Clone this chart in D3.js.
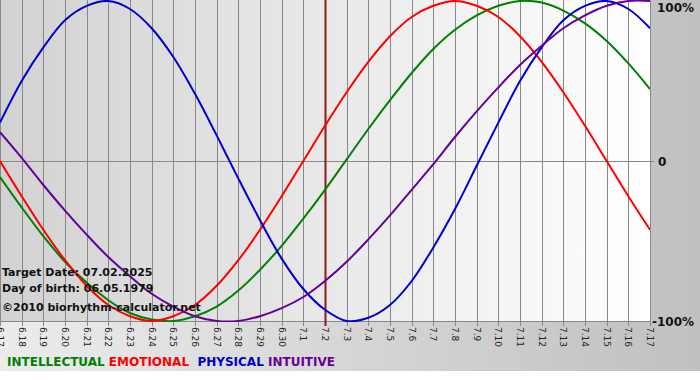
<!DOCTYPE html>
<html>
<head>
<meta charset="utf-8">
<script src="https://cdn.jsdelivr.net/npm/d3@7"></script>
<style>
  body { margin: 0; background: #fff; }
  svg { display: block; }
</style>
</head>
<body>
<div id="chart"></div>
<script>
// day labels, 17 June to 17 July
const days = ["6.17","6.18","6.19","6.20","6.21","6.22","6.23","6.24","6.25","6.26","6.27","6.28","6.29","6.30",
  "7.1","7.2","7.3","7.4","7.5","7.6","7.7","7.8","7.9","7.10","7.11","7.12","7.13","7.14","7.15","7.16","7.17"];

// values, -1..1
const intellectual = [-0.10,-0.29,-0.47,-0.63,-0.76,-0.87,-0.95,-0.99,-1.00,-0.97,-0.91,-0.81,-0.68,-0.53,-0.36,-0.18,
  0.01,0.20,0.38,0.55,0.70,0.82,0.91,0.97,1.00,0.99,0.94,0.86,0.75,0.61,0.45];
const emotional = [0.00,-0.22,-0.43,-0.62,-0.78,-0.90,-0.97,-1.00,-0.97,-0.90,-0.78,-0.62,-0.43,-0.22,0.00,0.22,
  0.43,0.62,0.78,0.90,0.97,1.00,0.97,0.90,0.78,0.62,0.43,0.22,0.00,-0.22,-0.43];
const physical = [0.24,0.50,0.71,0.88,0.97,1.00,0.95,0.83,0.65,0.42,0.16,-0.11,-0.37,-0.61,-0.80,-0.93,
  -1.00,-0.98,-0.90,-0.75,-0.54,-0.30,-0.03,0.24,0.50,0.71,0.88,0.97,1.00,0.95,0.83];
const intuitive = [0.18,0.02,-0.15,-0.31,-0.46,-0.60,-0.72,-0.83,-0.91,-0.97,-1.00,-1.00,-0.97,-0.92,-0.85,-0.75,
  -0.63,-0.49,-0.34,-0.18,-0.02,0.15,0.31,0.46,0.60,0.72,0.83,0.91,0.97,1.00,1.00];

const series = [
  {name: "INTELLECTUAL", color: "#008000", values: intellectual},
  {name: "EMOTIONAL", color: "#ff0000", values: emotional},
  {name: "PHYSICAL", color: "#0000cc", values: physical},
  {name: "INTUITIVE", color: "#660099", values: intuitive}
];

const targetDay = "7.2";
const yTicks = [{v: 1, label: "100%"}, {v: 0, label: "0"}, {v: -1, label: "-100%"}];
const infoLines = ["Target Date: 07.02.2025", "Day of birth: 06.05.1979", "\u00a92010 biorhythm-calculator.net"];

const width = 700, height = 380;
const plotW = 650, plotH = 321;
const font = "DejaVu Sans, Verdana, sans-serif";

const svg = d3.select("#chart").append("svg")
  .attr("width", width)
  .attr("height", height);

const defs = svg.append("defs");
const outerGrad = defs.append("linearGradient").attr("id", "outer");
outerGrad.append("stop").attr("offset", "0%").attr("stop-color", "#ececec");
outerGrad.append("stop").attr("offset", "100%").attr("stop-color", "#c0c0c0");
const plotGrad = defs.append("linearGradient").attr("id", "plotbg");
plotGrad.append("stop").attr("offset", "0%").attr("stop-color", "#d2d2d2");
plotGrad.append("stop").attr("offset", "100%").attr("stop-color", "#ffffff");

svg.append("rect").attr("width", width).attr("height", 371).attr("fill", "url(#outer)");
svg.append("rect").attr("width", plotW).attr("height", plotH).attr("fill", "url(#plotbg)");

const x = d3.scaleLinear().domain([0, days.length - 1]).range([0, plotW]);
const y = d3.scaleLinear().domain([-1, 1]).range([plotH, 1]);

// vertical grid
svg.append("g")
  .selectAll("line")
  .data(days)
  .join("line")
  .attr("x1", (d, i) => Math.round(x(i)) + 0.5)
  .attr("x2", (d, i) => Math.round(x(i)) + 0.5)
  .attr("y1", 0)
  .attr("y2", plotH + 5)
  .attr("stroke", "#888")
  .attr("stroke-width", 1);

// zero line + bottom
svg.append("line")
  .attr("x1", 0).attr("x2", plotW + 4)
  .attr("y1", Math.round(y(0)) + 0.5).attr("y2", Math.round(y(0)) + 0.5)
  .attr("stroke", "#888");
svg.append("line")
  .attr("x1", 0).attr("x2", plotW)
  .attr("y1", plotH + 0.5).attr("y2", plotH + 0.5)
  .attr("stroke", "#888");

// x labels, rotated
svg.append("g")
  .selectAll("text")
  .data(days)
  .join("text")
  .attr("transform", (d, i) => "translate(" + (x(i) - 3) + "," + (plotH + 6) + ") rotate(90)")
  .attr("font-family", font)
  .attr("font-size", 9)
  .attr("fill", "#222")
  .text(d => d);

// target day marker
const ti = days.indexOf(targetDay);
svg.append("line")
  .attr("x1", Math.round(x(ti)) + 0.5).attr("x2", Math.round(x(ti)) + 0.5)
  .attr("y1", 0).attr("y2", plotH + 5)
  .attr("stroke", "#8b1a1a")
  .attr("stroke-width", 2);

// curves
const line = d3.line()
  .x((d, i) => x(i))
  .y(d => y(d))
  .curve(d3.curveCatmullRom);

const clip = defs.append("clipPath").attr("id", "clip");
clip.append("rect").attr("width", plotW).attr("height", plotH + 1);

svg.append("g")
  .attr("clip-path", "url(#clip)")
  .selectAll("path")
  .data(series)
  .join("path")
  .attr("d", d => line(d.values))
  .attr("fill", "none")
  .attr("stroke", d => d.color)
  .attr("stroke-width", 2);

// right-side percent labels
svg.append("g")
  .selectAll("text")
  .data(yTicks)
  .join("text")
  .attr("x", d => d.v === 0 ? 658 : (d.v > 0 ? 657 : 652))
  .attr("y", d => d.v > 0 ? 12 : y(d.v) + (d.v < 0 ? 5 : 5))
  .attr("font-family", font)
  .attr("font-weight", "bold")
  .attr("font-size", 12)
  .attr("fill", "#111")
  .text(d => d.label);

// info text
svg.append("g")
  .selectAll("text")
  .data(infoLines)
  .join("text")
  .attr("x", 2)
  .attr("y", (d, i) => [276, 292, 311][i])
  .attr("font-family", font)
  .attr("font-weight", "bold")
  .attr("font-size", 11)
  .attr("fill", "#111")
  .text(d => d);

// legend
const legend = svg.append("text")
  .attr("x", 7)
  .attr("y", 366)
  .attr("font-family", font)
  .attr("font-weight", "bold")
  .attr("font-size", 12)
  .style("white-space", "pre");
legend.selectAll("tspan")
  .data(series)
  .join("tspan")
  .attr("fill", d => d.color)
  .text((d, i) => (i === 2 ? "  " : i ? " " : "") + d.name);
</script>
</body>
</html>
